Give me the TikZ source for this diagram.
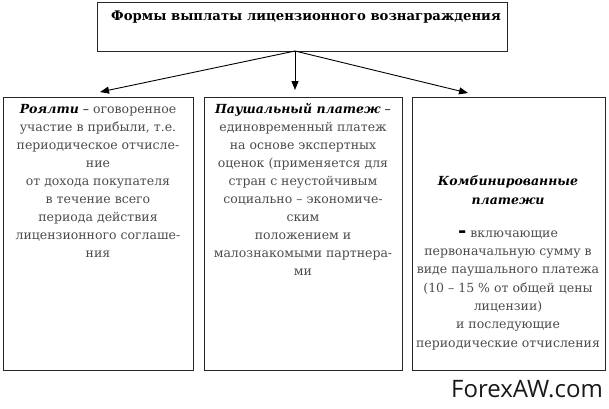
\documentclass[tikz,border=0pt]{standalone}
\usepackage{fontspec}
\setmainfont{DejaVu Serif}
\newfontfamily\wmfont{Open Sans}
\usetikzlibrary{arrows.meta}
\begin{document}
\begin{tikzpicture}[x=1pt,y=-1pt,
  boxst/.style={draw=black!85,line width=1.1pt,inner sep=0pt,anchor=north west},
  txt/.style={align=center,inner sep=0pt,anchor=base,font=\fontsize{12.5}{17.9}\selectfont,text=black!70},
  arr/.style={line width=0.9pt,-{Triangle[length=9pt,width=7pt]}}]
\useasboundingbox (0,0) rectangle (609,408);
\node[boxst,minimum width=410pt,minimum height=49pt] (top) at (97,2) {};
\node[inner sep=0pt,anchor=base,font=\fontsize{13.2}{18}\bfseries\selectfont] (title) at (306,20) {Формы выплаты лицензионного вознаграждения};
\node[boxst,minimum width=190pt,minimum height=273pt] (b1) at (3,97) {};
\node[boxst,minimum width=198pt,minimum height=273pt] (b2) at (204,97) {};
\node[boxst,minimum width=193pt,minimum height=273pt] (b3) at (412,97) {};
\coordinate (src) at (295,51);
\draw[arr] (src) -- (100,92);
\draw[arr] (src) -- (295,90);
\draw[arr] (src) -- (468,93);
\node[txt] (t1) at (98,257) {\textcolor{black}{\textbf{\textit{Роялти}} –} оговоренное\\участие в прибыли, т.е.\\периодическое отчисле-\\ние\\от дохода покупателя\\в течение всего\\периода действия\\лицензионного соглаше-\\ния};
\node[txt] (t2) at (303,275) {\textcolor{black}{\textbf{\textit{Паушальный платеж}} –}\\единовременный платеж\\на основе экспертных\\оценок (применяется для\\стран с неустойчивым\\социально – экономиче-\\ским\\положением и\\малознакомыми партнера-\\ми};
\node[txt,text=black,font=\fontsize{12.5}{19}\selectfont] (t3a) at (508,204) {\textbf{\textit{Комбинированные}}\\\textbf{\textit{платежи}}};
\node[txt,font=\fontsize{12.5}{18.3}\selectfont] (t3b) at (508,347) {{\color{black}\fontsize{20}{17}\selectfont\textbf{-}} включающие\\первоначальную сумму в\\виде паушального платежа\\(10 – 15 \% от общей цены\\лицензии)\\и последующие\\периодические отчисления};
\node[inner sep=0pt,anchor=base east,font=\wmfont\fontsize{24}{26}\selectfont,text=black!90] (wm) at (603,397) {ForexAW.com};
\end{tikzpicture}
\end{document}
